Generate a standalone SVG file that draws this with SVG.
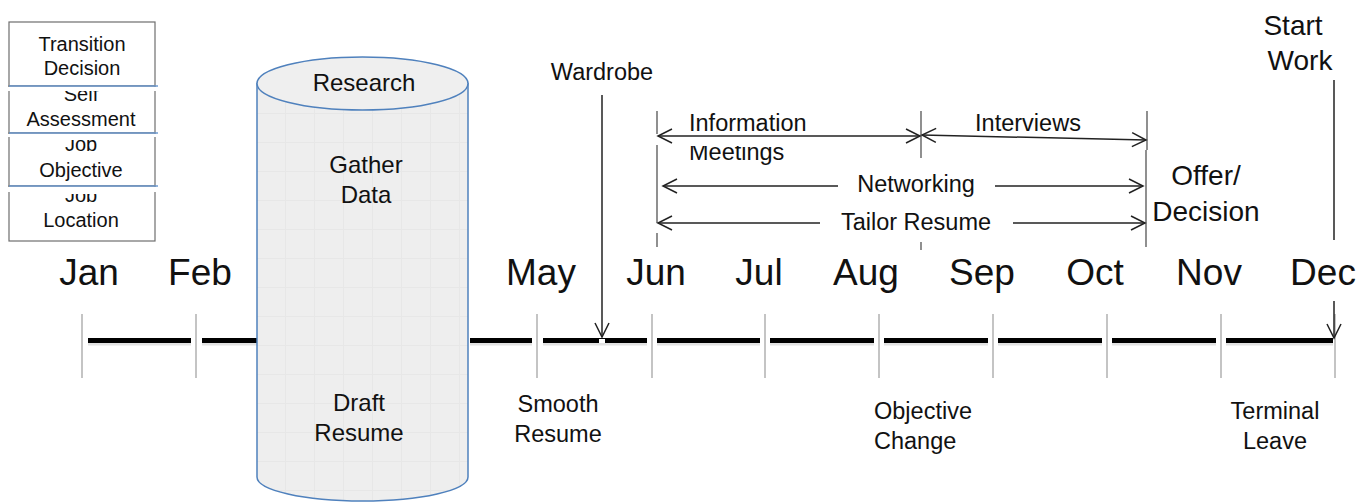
<svg xmlns="http://www.w3.org/2000/svg" width="1369" height="502" viewBox="0 0 1369 502">
<style>
.t{font-family:"Liberation Sans",Arial,sans-serif;fill:#111}
.m{font-size:37px;text-anchor:middle}
.s{font-size:23.5px}
.c{text-anchor:middle}
.b{font-size:20px;text-anchor:middle}
.ln{stroke:#222;stroke-width:1.5;fill:none}
.vl{stroke:#555;stroke-width:1.3;fill:none}
.tick{stroke:#c4c4c4;stroke-width:2}
.tl{stroke:#000;stroke-width:5}
.sh{stroke:#e2e2e2;stroke-width:3}
.box{fill:#fff;stroke:#6e6e6e;stroke-width:1.2}
.blu{stroke:#6f9bd0;stroke-width:1.5}
</style>
<defs>
<marker id="ah" viewBox="-16 -9 18 18" markerWidth="18" markerHeight="18" refX="0" refY="0" orient="auto-start-reverse" markerUnits="userSpaceOnUse" overflow="visible">
<path d="M-14,-7 L0,0 L-14,7" fill="none" stroke="#222" stroke-width="1.5"/>
</marker>
<pattern id="grid" width="29" height="29" patternUnits="userSpaceOnUse" x="256" y="84">
<rect width="29" height="29" fill="#eeeeee"/>
<path d="M0,0.5 H29 M0.5,0 V29" stroke="#e7e7e7" stroke-width="1"/>
</pattern>
<clipPath id="c2"><rect x="9" y="91" width="146" height="42"/></clipPath>
<clipPath id="c3"><rect x="9" y="140" width="146" height="46"/></clipPath>
<clipPath id="c4"><rect x="9" y="194" width="146" height="47"/></clipPath>
<clipPath id="cm"><rect x="660" y="146" width="200" height="30"/></clipPath>
</defs>

<g id="timeline">
<g class="sh">
<line x1="88" y1="344" x2="191" y2="344"/><line x1="202" y1="344" x2="260" y2="344"/>
<line x1="470" y1="344" x2="532" y2="344"/><line x1="543" y1="344" x2="647" y2="344"/>
<line x1="657" y1="344" x2="760" y2="344"/><line x1="770" y1="344" x2="874" y2="344"/>
<line x1="884" y1="344" x2="988" y2="344"/><line x1="998" y1="344" x2="1102" y2="344"/>
<line x1="1112" y1="344" x2="1216" y2="344"/><line x1="1226" y1="344" x2="1333" y2="344"/>
</g>
<g class="tl">
<line x1="88" y1="340.5" x2="191" y2="340.5"/><line x1="202" y1="340.5" x2="260" y2="340.5"/>
<line x1="470" y1="340.5" x2="532" y2="340.5"/><line x1="543" y1="340.5" x2="647" y2="340.5"/>
<line x1="657" y1="340.5" x2="760" y2="340.5"/><line x1="770" y1="340.5" x2="874" y2="340.5"/>
<line x1="884" y1="340.5" x2="988" y2="340.5"/><line x1="998" y1="340.5" x2="1102" y2="340.5"/>
<line x1="1112" y1="340.5" x2="1216" y2="340.5"/><line x1="1226" y1="340.5" x2="1333" y2="340.5"/>
</g>
<g class="tick">
<line x1="82" y1="314" x2="82" y2="378"/><line x1="196" y1="314" x2="196" y2="378"/>
<line x1="537" y1="314" x2="537" y2="378"/><line x1="652" y1="314" x2="652" y2="378"/>
<line x1="765" y1="314" x2="765" y2="378"/><line x1="879" y1="314" x2="879" y2="378"/>
<line x1="993" y1="314" x2="993" y2="378"/><line x1="1107" y1="314" x2="1107" y2="378"/>
<line x1="1221" y1="314" x2="1221" y2="378"/><line x1="1335" y1="314" x2="1335" y2="378"/>
</g>
</g>

<g id="months" class="t m">
<text x="89" y="285">Jan</text><text x="200" y="285">Feb</text>
<text x="541" y="285">May</text><text x="656" y="285">Jun</text>
<text x="759" y="285">Jul</text><text x="866" y="285">Aug</text>
<text x="982" y="285">Sep</text><text x="1095" y="285">Oct</text>
<text x="1209" y="285">Nov</text><text x="1323" y="285">Dec</text>
</g>

<g id="research">
<path d="M257,83.5 L257,477 A105.5,24 0 0 0 468,477 L468,83.5 Z" fill="url(#grid)" stroke="#4f81bd" stroke-width="1.5"/>
<ellipse cx="362.5" cy="83.5" rx="105.5" ry="26.5" fill="#efefef" stroke="#4f81bd" stroke-width="1.5"/>
<text class="t c" x="364" y="91" font-size="24">Research</text>
<text class="t c" x="366" y="173" font-size="24">Gather</text>
<text class="t c" x="366" y="203" font-size="24">Data</text>
<text class="t c" x="359" y="411" font-size="24">Draft</text>
<text class="t c" x="359" y="441" font-size="24">Resume</text>
</g>

<g id="box-transition">
<rect class="box" x="9" y="22" width="146" height="64"/>
<text class="t b" x="82" y="51">Transition</text>
<text class="t b" x="82" y="75">Decision</text>
</g>
<g id="box-self">
<rect class="box" x="9" y="86" width="146" height="47"/>
<rect x="7" y="87" width="153" height="4" fill="#fff"/>
<line class="blu" x1="9" y1="86" x2="158" y2="86"/>
<g clip-path="url(#c2)">
<text class="t b" x="81" y="101">Self</text>
</g>
<text class="t b" x="81" y="126">Assessment</text>
</g>
<g id="box-objective">
<rect class="box" x="9" y="133" width="146" height="53"/>
<rect x="7" y="134" width="153" height="3" fill="#fff"/>
<line class="blu" x1="9" y1="133" x2="158" y2="133"/>
<g clip-path="url(#c3)">
<text class="t b" x="81" y="151">Job</text>
</g>
<text class="t b" x="81" y="177">Objective</text>
</g>
<g id="box-location">
<rect class="box" x="9" y="186" width="146" height="55"/>
<rect x="7" y="187" width="153" height="5" fill="#fff"/>
<line class="blu" x1="9" y1="186" x2="158" y2="186"/>
<g clip-path="url(#c4)">
<text class="t b" x="81" y="202">Job</text>
</g>
<text class="t b" x="81" y="227">Location</text>
</g>

<g id="connectors">
<line class="ln" x1="602" y1="95" x2="602" y2="337" marker-end="url(#ah)"/>
<rect x="599" y="339" width="6" height="4" fill="#fff"/>
<line class="ln" x1="1334" y1="80" x2="1334" y2="240"/>
<line class="ln" x1="1334" y1="301" x2="1334" y2="338" marker-end="url(#ah)"/>

<path class="vl" d="M657,111 V134 M657,145 V223 M657,233 V247"/>
<path class="vl" d="M921,111 V158 M921,242 V250"/>
<path class="vl" d="M1147,111 V150 M1146,150 V247"/>

<line class="ln" x1="658" y1="136" x2="920" y2="136" marker-start="url(#ah)" marker-end="url(#ah)"/>
<line class="ln" x1="922" y1="135" x2="1146" y2="140" marker-start="url(#ah)" marker-end="url(#ah)"/>
<line class="ln" x1="663" y1="186" x2="838" y2="186" marker-start="url(#ah)"/>
<line class="ln" x1="995" y1="186" x2="1143" y2="186" marker-end="url(#ah)"/>
<line class="ln" x1="658" y1="223" x2="820" y2="223" marker-start="url(#ah)"/>
<line class="ln" x1="1013" y1="223" x2="1145" y2="223" marker-end="url(#ah)"/>
</g>

<g id="labels" class="t s">
<text class="c" x="602" y="80">Wardrobe</text>
<text x="689" y="131">Information</text>
<g clip-path="url(#cm)"><text x="689" y="160">Meetings</text></g>
<text class="c" x="1028" y="131">Interviews</text>
<text class="c" x="916" y="192">Networking</text>
<text class="c" x="916" y="230">Tailor Resume</text>
<text class="c" x="558" y="412">Smooth</text>
<text class="c" x="558" y="442">Resume</text>
<text x="874" y="419">Objective</text>
<text x="874" y="449">Change</text>
<text class="c" x="1275" y="419">Terminal</text>
<text class="c" x="1275" y="449">Leave</text>
</g>
<g id="milestones" class="t c" font-size="28">
<text x="1206" y="185">Offer/</text>
<text x="1206" y="221">Decision</text>
<text x="1293" y="35">Start</text>
<text x="1300" y="70">Work</text>
</g>
</svg>
